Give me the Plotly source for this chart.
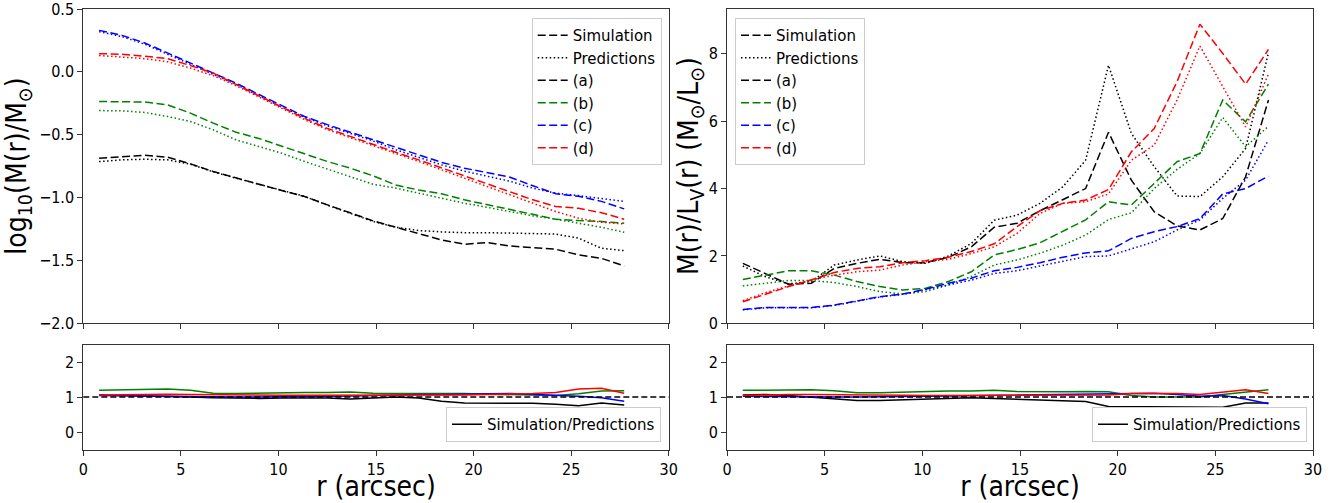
import plotly.graph_objects as go

# ---------------- data ----------------
R = [0.81, 1.98, 3.15, 4.32, 5.49, 6.66, 7.83, 9.0, 10.17, 11.34, 12.51, 13.68,
     14.85, 16.02, 17.19, 18.36, 19.53, 20.7, 21.87, 23.04, 24.21, 25.38, 26.55, 27.72]

# log10(M(r)/Msun)
a_sim_M = [-0.687, -0.674, -0.663, -0.679, -0.732, -0.793, -0.846, -0.894, -0.944, -0.992, -1.058, -1.124,
           -1.185, -1.236, -1.284, -1.337, -1.371, -1.358, -1.385, -1.395, -1.411, -1.456, -1.483, -1.544]
a_pred_M = [-0.714, -0.700, -0.695, -0.700, -0.735, -0.795, -0.846, -0.894, -0.944, -0.990, -1.060, -1.125,
            -1.190, -1.236, -1.262, -1.273, -1.279, -1.279, -1.284, -1.284, -1.290, -1.323, -1.403, -1.422]
b_sim_M = [-0.236, -0.236, -0.240, -0.263, -0.328, -0.408, -0.480, -0.530, -0.594, -0.652, -0.713, -0.766,
           -0.827, -0.900, -0.940, -0.970, -1.018, -1.058, -1.093, -1.133, -1.172, -1.183, -1.190, -1.204]
b_pred_M = [-0.308, -0.310, -0.323, -0.355, -0.395, -0.461, -0.541, -0.594, -0.647, -0.713, -0.774, -0.833,
            -0.894, -0.925, -0.965, -1.005, -1.045, -1.077, -1.111, -1.146, -1.172, -1.204, -1.236, -1.276]
c_sim_M = [0.330, 0.290, 0.230, 0.150, 0.070, -0.010, -0.090, -0.180, -0.270, -0.355, -0.420, -0.480,
           -0.535, -0.600, -0.660, -0.720, -0.766, -0.800, -0.838, -0.906, -0.970, -0.990, -1.030, -1.090]
c_pred_M = [0.320, 0.280, 0.220, 0.140, 0.060, -0.020, -0.100, -0.190, -0.280, -0.360, -0.430, -0.490,
            -0.550, -0.620, -0.680, -0.740, -0.790, -0.833, -0.870, -0.925, -0.965, -0.984, -1.005, -1.030]
d_sim_M = [0.145, 0.140, 0.125, 0.105, 0.050, -0.010, -0.100, -0.190, -0.280, -0.370, -0.450, -0.515,
           -0.580, -0.640, -0.700, -0.766, -0.827, -0.891, -0.952, -1.018, -1.071, -1.085, -1.120, -1.172]
d_pred_M = [0.130, 0.120, 0.105, 0.080, 0.030, -0.030, -0.110, -0.200, -0.290, -0.380, -0.460, -0.525,
            -0.590, -0.650, -0.713, -0.780, -0.846, -0.912, -0.979, -1.045, -1.111, -1.164, -1.196, -1.210]

# M(r)/L_V(r)
a_sim_ML = [1.78, 1.48, 1.16, 1.19, 1.63, 1.78, 1.90, 1.80, 1.80, 1.96, 2.27, 2.85,
            2.97, 3.34, 3.66, 4.00, 5.67, 4.25, 3.31, 2.89, 2.77, 3.11, 4.35, 6.63]
a_pred_ML = [1.70, 1.38, 1.17, 1.24, 1.73, 1.88, 2.00, 1.83, 1.78, 2.00, 2.37, 3.06,
             3.21, 3.56, 4.05, 4.84, 7.66, 5.64, 4.65, 3.78, 3.76, 4.35, 5.19, 8.03]
b_sim_ML = [1.30, 1.43, 1.56, 1.56, 1.43, 1.24, 1.09, 0.99, 1.04, 1.24, 1.53, 2.03,
            2.19, 2.39, 2.72, 3.07, 3.61, 3.51, 4.15, 4.80, 5.04, 6.63, 5.98, 7.10]
b_pred_ML = [1.11, 1.19, 1.27, 1.27, 1.21, 1.09, 0.94, 0.87, 0.94, 1.14, 1.39, 1.73,
             1.88, 2.08, 2.32, 2.62, 3.08, 3.28, 4.00, 4.57, 5.04, 6.11, 5.24, 5.85]
c_sim_ML = [0.41, 0.47, 0.47, 0.47, 0.54, 0.67, 0.79, 0.87, 1.01, 1.19, 1.34, 1.56,
            1.66, 1.80, 1.96, 2.09, 2.15, 2.52, 2.72, 2.87, 3.11, 3.84, 4.00, 4.37]
c_pred_ML = [0.40, 0.46, 0.46, 0.46, 0.53, 0.66, 0.78, 0.86, 0.99, 1.14, 1.28, 1.48,
             1.56, 1.70, 1.86, 1.98, 2.00, 2.22, 2.42, 2.77, 3.07, 3.71, 4.25, 5.44]
d_sim_ML = [0.64, 0.87, 1.09, 1.29, 1.51, 1.63, 1.68, 1.80, 1.86, 1.96, 2.13, 2.36,
            2.87, 3.34, 3.56, 3.66, 3.97, 5.09, 5.78, 7.17, 8.88, 8.01, 7.10, 8.13]
d_pred_ML = [0.67, 0.91, 1.11, 1.29, 1.43, 1.53, 1.58, 1.73, 1.83, 1.90, 2.07, 2.27,
             2.67, 3.26, 3.56, 3.61, 3.84, 4.84, 5.29, 6.63, 8.23, 7.02, 5.83, 7.40]

# Simulation/Predictions ratios
a_ratio_M = [1.06, 1.05, 1.02, 1.01, 1.00, 0.98, 0.96, 0.96, 0.97, 0.98, 0.97, 0.94,
             0.98, 1.00, 0.97, 0.88, 0.83, 0.83, 0.83, 0.82, 0.79, 0.75, 0.83, 0.77]
b_ratio_M = [1.19, 1.20, 1.23, 1.23, 1.19, 1.11, 1.10, 1.11, 1.14, 1.13, 1.13, 1.14,
             1.11, 1.11, 1.12, 1.11, 1.10, 1.08, 1.06, 1.04, 1.04, 1.09, 1.17, 1.18]
c_ratio_M = [1.04, 1.03, 1.02, 1.02, 1.02, 1.01, 1.00, 1.00, 1.00, 1.01, 1.02, 1.03,
             1.05, 1.06, 1.07, 1.07, 1.07, 1.09, 1.10, 1.08, 1.04, 1.02, 0.98, 0.88]
d_ratio_M = [1.06, 1.07, 1.08, 1.08, 1.07, 1.06, 1.05, 1.05, 1.05, 1.05, 1.05, 1.04,
             1.04, 1.04, 1.05, 1.06, 1.06, 1.07, 1.08, 1.10, 1.13, 1.23, 1.25, 1.11]
a_ratio_ML = [1.06, 1.07, 1.04, 1.00, 0.94, 0.90, 0.90, 0.92, 0.94, 0.96, 0.98, 0.96,
              0.94, 0.92, 0.90, 0.87, 0.73, 0.73, 0.73, 0.73, 0.73, 0.71, 0.83, 0.83]
b_ratio_ML = [1.19, 1.20, 1.21, 1.21, 1.18, 1.12, 1.12, 1.14, 1.17, 1.17, 1.17, 1.19,
              1.16, 1.15, 1.15, 1.16, 1.15, 1.04, 1.00, 1.00, 1.00, 1.07, 1.13, 1.21]
c_ratio_ML = [1.02, 1.01, 1.00, 1.00, 1.00, 1.00, 1.00, 1.01, 1.02, 1.03, 1.04, 1.06,
              1.07, 1.08, 1.08, 1.08, 1.09, 1.11, 1.11, 1.07, 1.02, 1.04, 0.94, 0.81]
d_ratio_ML = [1.04, 1.06, 1.07, 1.07, 1.07, 1.06, 1.05, 1.05, 1.04, 1.04, 1.04, 1.04,
              1.04, 1.05, 1.05, 1.05, 1.06, 1.10, 1.11, 1.10, 1.07, 1.13, 1.21, 1.10]

labels = ["(a)", "(b)", "(c)", "(d)"]
colors = ["black", "green", "blue", "red"]
x_ticks = [0, 5, 10, 15, 20, 25, 30]

# ---------------- figure ----------------
W, H = 1337, 503
FONT = "DejaVu Sans"
FONT_C = "DejaVu Sans Condensed, DejaVu Sans"
DASH = "8px,3.5px"
DOT = "1.5px,2.5px"
LW = 1.5

fig = go.Figure()

panels = [
    ("x", "y", "legend", [a_sim_M, b_sim_M, c_sim_M, d_sim_M], [a_pred_M, b_pred_M, c_pred_M, d_pred_M]),
    ("x2", "y2", "legend2", [a_sim_ML, b_sim_ML, c_sim_ML, d_sim_ML], [a_pred_ML, b_pred_ML, c_pred_ML, d_pred_ML]),
]
for xa, ya, lg, sims, preds in panels:
    fig.add_trace(go.Scatter(x=[None], y=[None], mode="lines", name="Simulation", legend=lg,
                             line=dict(color="black", width=LW, dash=DASH), xaxis=xa, yaxis=ya))
    fig.add_trace(go.Scatter(x=[None], y=[None], mode="lines", name="Predictions", legend=lg,
                             line=dict(color="black", width=LW, dash=DOT), xaxis=xa, yaxis=ya))
    for lab, col, s, p in zip(labels, colors, sims, preds):
        fig.add_trace(go.Scatter(x=R, y=s, mode="lines", name=lab, legend=lg,
                                 line=dict(color=col, width=LW, dash=DASH), xaxis=xa, yaxis=ya))
        fig.add_trace(go.Scatter(x=R, y=p, mode="lines", name=lab + " pred", showlegend=False,
                                 line=dict(color=col, width=LW, dash=DOT), xaxis=xa, yaxis=ya))

ratio_panels = [
    ("x3", "y3", "legend3", [a_ratio_M, b_ratio_M, c_ratio_M, d_ratio_M]),
    ("x4", "y4", "legend4", [a_ratio_ML, b_ratio_ML, c_ratio_ML, d_ratio_ML]),
]
for xa, ya, lg, ratios in ratio_panels:
    for i, (lab, col, r) in enumerate(zip(labels, colors, ratios)):
        fig.add_trace(go.Scatter(x=R, y=r, mode="lines", name="Simulation/Predictions" if i == 0 else lab,
                                 showlegend=(i == 0), legend=lg,
                                 line=dict(color=col, width=LW), xaxis=xa, yaxis=ya))
    fig.add_shape(type="line", xref=xa + " domain", x0=0, x1=1, yref=ya, y0=1, y1=1,
                  line=dict(color="black", width=LW, dash="6px,3px"))

def px(v):
    return v / W

def py(v):
    return 1 - v / H

L_DOM = [px(83.3), px(668.7)]
R_DOM = [px(727.0), px(1313.0)]
TOP_DOM = [py(323.3), py(9.0)]
BOT_DOM = [py(449.5), py(344.5)]

axis_common = dict(showline=True, mirror=True, linecolor="#333333", linewidth=1,
                   ticks="outside", ticklen=5, tickwidth=1, tickcolor="#333333",
                   showgrid=False, zeroline=False, automargin=False,
                   ticklabeloverflow="allow",
                   tickfont=dict(family=FONT_C, size=16, color="black"))

ytitle_font = dict(family=FONT_C, size=28, color="black")
xtitle_font = dict(family=FONT_C, size=28, color="black")

layout = dict(
    width=W, height=H,
    margin=dict(l=0, r=0, t=0, b=0, autoexpand=False),
    paper_bgcolor="white", plot_bgcolor="white",
    font=dict(family=FONT, size=15, color="black"),
    xaxis=dict(domain=L_DOM, anchor="y", range=[0, 30], tickvals=x_ticks, showticklabels=False, **axis_common),
    yaxis=dict(domain=TOP_DOM, anchor="x", range=[-2, 0.5],
               tickvals=[-2, -1.5, -1, -0.5, 0, 0.5],
               ticktext=["\u22122.0", "\u22121.5", "\u22121.0", "\u22120.5", "0.0", "0.5"],
               title=dict(text="log<sub>10</sub>(M(r)/M<sub>\u2299</sub>)", font=ytitle_font, standoff=10),
               **axis_common),
    xaxis2=dict(domain=R_DOM, anchor="y2", range=[0, 30], tickvals=x_ticks, showticklabels=False, **axis_common),
    yaxis2=dict(domain=TOP_DOM, anchor="x2", range=[0, 9.33], tickvals=[0, 2, 4, 6, 8],
                title=dict(text="M(r)/L<sub>V</sub>(r) (M<sub>\u2299</sub>/L<sub>\u2299</sub>)", font=ytitle_font, standoff=0),
                **axis_common),
    xaxis3=dict(domain=L_DOM, anchor="y3", range=[0, 30], tickvals=x_ticks,
                title=dict(text="r (arcsec)", font=xtitle_font, standoff=13), **axis_common),
    yaxis3=dict(domain=BOT_DOM, anchor="x3", range=[-0.5, 2.5], tickvals=[0, 1, 2], **axis_common),
    xaxis4=dict(domain=R_DOM, anchor="y4", range=[0, 30], tickvals=x_ticks,
                title=dict(text="r (arcsec)", font=xtitle_font, standoff=13), **axis_common),
    yaxis4=dict(domain=BOT_DOM, anchor="x4", range=[-0.5, 2.5], tickvals=[0, 1, 2], **axis_common),
)

legend_common = dict(bgcolor="rgba(255,255,255,0.8)", bordercolor="#cccccc", borderwidth=1,
                     font=dict(family=FONT, size=15, color="black"), traceorder="normal")
layout["legend"] = dict(x=px(661.7), y=py(18), xanchor="right", yanchor="top", **legend_common)
layout["legend2"] = dict(x=px(735), y=py(18), xanchor="left", yanchor="top", **legend_common)
layout["legend3"] = dict(x=px(661), y=py(442), xanchor="right", yanchor="bottom", **legend_common)
layout["legend4"] = dict(x=px(1307), y=py(442), xanchor="right", yanchor="bottom", **legend_common)

fig.update_layout(**layout)
fig.write_html("out.html", config={"displayModeBar": False},
               post_script="document.body.style.margin='0px';document.body.style.overflow='hidden';")
